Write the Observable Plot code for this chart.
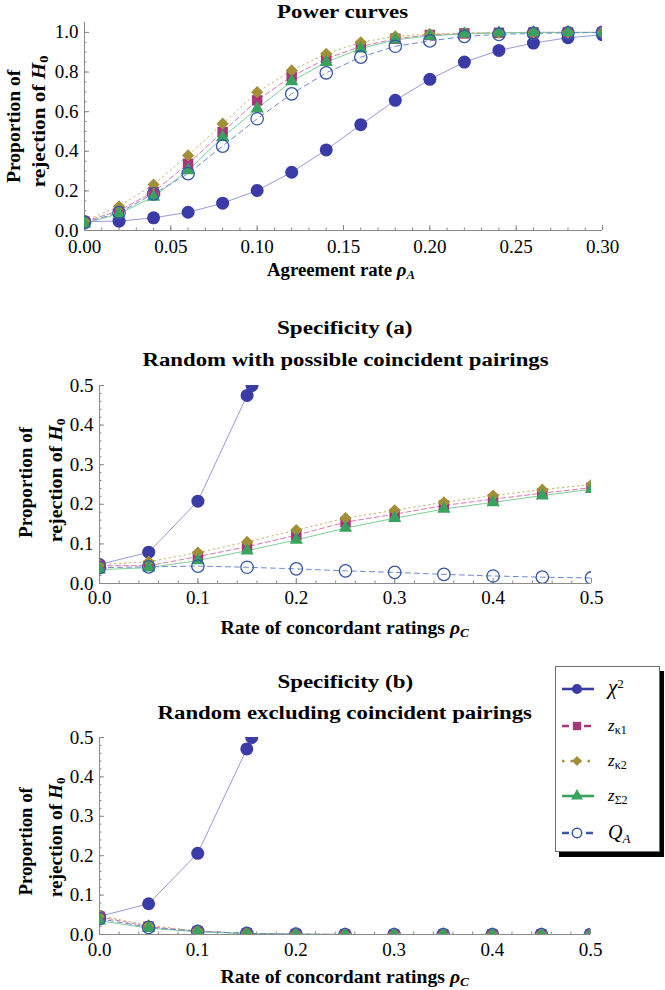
<!DOCTYPE html>
<html>
<head>
<meta charset="utf-8">
<script src="https://cdn.jsdelivr.net/npm/d3@7"></script>
<script src="https://cdn.jsdelivr.net/npm/@observablehq/plot@0.6"></script>
<style>
html,body{margin:0;padding:0;background:#fff;}
#root{position:relative;width:665px;height:990px;overflow:hidden;font-family:"Liberation Serif","Times New Roman",serif;color:#000;}
.t{position:absolute;white-space:nowrap;line-height:1.15;transform-origin:center center;}
.b{font-weight:bold;}
sub{font-size:0.68em;vertical-align:-0.28em;line-height:0;}
sup{font-size:0.68em;vertical-align:0.5em;line-height:0;}
#legend{position:absolute;left:555px;top:666px;width:105px;height:186px;box-sizing:border-box;border:1px solid #6e6e6e;background:#fff;box-shadow:4px 5px 0 #000;z-index:5;}
.row{position:absolute;left:0;width:100%;height:0;}
.row svg{position:absolute;left:5px;top:-9px;}
.row span{position:absolute;left:52px;top:0;transform:translateY(-55%);white-space:nowrap;line-height:1;}
</style>
</head>
<body>
<div id="root"></div>
<script>
// ---------------- data ----------------
const seriesNames = ["χ2", "zκ1", "zκ2", "zΣ2", "QA"];

// Power curves
const rhoA = [0, 0.02, 0.04, 0.06, 0.08, 0.10, 0.12, 0.14, 0.16, 0.18, 0.20, 0.22, 0.24, 0.26, 0.28, 0.30];
const powChi2 = [0.045, 0.047, 0.064, 0.092, 0.138, 0.202, 0.294, 0.407, 0.534, 0.657, 0.763, 0.850, 0.909, 0.946, 0.973, 0.988];
const powK1   = [0.045, 0.100, 0.195, 0.337, 0.497, 0.657, 0.778, 0.867, 0.929, 0.968, 0.987, 0.995, 0.998, 1.000, 1.000, 1.000];
const powK2   = [0.048, 0.122, 0.232, 0.379, 0.539, 0.698, 0.808, 0.892, 0.950, 0.980, 0.992, 0.997, 0.999, 1.000, 1.000, 1.000];
const powS2   = [0.035, 0.085, 0.170, 0.303, 0.471, 0.615, 0.753, 0.850, 0.918, 0.963, 0.982, 0.993, 0.998, 1.000, 1.000, 1.000];
const powQA   = [0.040, 0.090, 0.185, 0.287, 0.426, 0.564, 0.690, 0.796, 0.875, 0.930, 0.957, 0.980, 0.990, 0.995, 0.998, 1.000];

// Specificity (a) and (b)
const rhoC = [0, 0.05, 0.10, 0.15, 0.20, 0.25, 0.30, 0.35, 0.40, 0.45, 0.50];
const rhoCChi = [0, 0.05, 0.10, 0.15, 0.155];
const specAChi2 = [0.048, 0.079, 0.208, 0.475, 0.500];
const specAK1   = [0.045, 0.045, 0.068, 0.093, 0.122, 0.155, 0.175, 0.197, 0.213, 0.228, 0.242];
const specAK2   = [0.048, 0.055, 0.078, 0.105, 0.135, 0.165, 0.185, 0.205, 0.222, 0.237, 0.250];
const specAS2   = [0.035, 0.040, 0.058, 0.083, 0.110, 0.140, 0.165, 0.188, 0.205, 0.222, 0.238];
const specAQA   = [0.040, 0.042, 0.044, 0.041, 0.037, 0.032, 0.028, 0.023, 0.019, 0.016, 0.014];

const specBChi2 = [0.046, 0.078, 0.206, 0.471, 0.500];
const specBK1   = [0.045, 0.020, 0.008, 0.003, 0.001, 0, 0, 0, 0, 0, 0];
const specBK2   = [0.048, 0.023, 0.009, 0.003, 0.001, 0, 0, 0, 0, 0, 0];
const specBS2   = [0.035, 0.016, 0.007, 0.002, 0.001, 0, 0, 0, 0, 0, 0];
const specBQA   = [0.040, 0.018, 0.008, 0.003, 0.001, 0, 0, 0, 0, 0, 0];

// ticks
const powXTicks = [0, 0.05, 0.10, 0.15, 0.20, 0.25, 0.30];
const powXMinor = d3.range(0, 0.3001, 0.01);
const powYTicks = [0, 0.2, 0.4, 0.6, 0.8, 1.0];
const powYMinor = d3.range(0, 1.0001, 0.05);
const specXTicks = [0, 0.1, 0.2, 0.3, 0.4, 0.5];
const specXMinor = d3.range(0, 0.5001, 0.02);
const specYTicks = [0, 0.1, 0.2, 0.3, 0.4, 0.5];
const specYMinor = d3.range(0, 0.5001, 0.02);

// ---------------- style ----------------
const markerColors = ["#3b3ba8", "#a8357c", "#a38f38", "#37a35e", "#3556a8"];
const lineColors   = ["#9a9ad8", "#d87aaa", "#c4b466", "#7ccf98", "#6f8ad0"];
const symbols      = ["circle", "square", "diamond2", "triangle", "circle"];
const markerR      = [6.5, 5.9, 5.5, 4.9, 6.2];
const dashes       = [null, "5,3", "1.5,3.5", null, "5,4"];
const AXIS = "#8a8a8a";
const SERIF = '"Liberation Serif", "Times New Roman", serif';
const root = document.getElementById("root");

function rows(xs, ys) { return ys.map((y, i) => ({x: xs[i], y})); }

function drawPanel(p) {
  const [x0] = p.xDomain, [y0] = p.yDomain;
  const marks = [
    Plot.ruleY([y0], {stroke: AXIS}),
    Plot.ruleX([x0], {stroke: AXIS}),
    Plot.ruleX(p.xMinor, {y1: y0, y2: y0, insetTop: -2.5, stroke: AXIS}),
    Plot.ruleX(p.xTicks, {y1: y0, y2: y0, insetTop: -5, stroke: AXIS}),
    Plot.ruleY(p.yMinor, {x1: x0, x2: x0, insetRight: -2.5, stroke: AXIS}),
    Plot.ruleY(p.yTicks, {x1: x0, x2: x0, insetRight: -5, stroke: AXIS}),
    Plot.axisX({ticks: p.xTicks, tickSize: 0, tickPadding: p.xPad, tickFormat: p.xFmt, label: null,
                fontFamily: SERIF, fontSize: 19, fontVariant: "normal"}),
    Plot.axisY({ticks: p.yTicks, tickSize: 0, tickPadding: 6, tickFormat: p.yFmt, label: null,
                fontFamily: SERIF, fontSize: 19, fontVariant: "normal"})
  ];
  p.series.forEach((s, i) => marks.push(Plot.line(rows(s.x, s.y), {
    x: "x", y: "y", stroke: lineColors[i], strokeWidth: 1, strokeDasharray: dashes[i], clip: true
  })));
  p.series.forEach((s, i) => {
    const open = i === 4;
    marks.push(Plot.dot(rows(s.x, s.y), {
      x: "x", y: "y", symbol: symbols[i], r: markerR[i],
      fill: open ? "none" : markerColors[i],
      stroke: open ? markerColors[i] : "none",
      strokeWidth: open ? 1.3 : 0, clip: true
    }));
  });
  const svg = Plot.plot({
    width: 665, height: p.height,
    marginTop: p.mt, marginBottom: p.mb, marginLeft: p.ml, marginRight: p.mr,
    x: {domain: p.xDomain}, y: {domain: p.yDomain},
    style: {fontFamily: SERIF, fontSize: "19px", color: "#000", background: "transparent", overflow: "visible"},
    marks
  });
  svg.style.position = "absolute";
  svg.style.left = "0px";
  svg.style.top = p.top + "px";
  root.appendChild(svg);
}

drawPanel({
  top: 0, height: 262, mt: 22, mb: 32, ml: 84, mr: 63,
  xDomain: [0, 0.30], yDomain: [0, 1.05],
  xTicks: powXTicks, xMinor: powXMinor, yTicks: powYTicks, yMinor: powYMinor,
  xFmt: d3.format(".2f"), yFmt: d3.format(".1f"), xPad: 9,
  series: [
    {x: rhoA, y: powChi2}, {x: rhoA, y: powK1}, {x: rhoA, y: powK2}, {x: rhoA, y: powS2}, {x: rhoA, y: powQA}
  ]
});
drawPanel({
  top: 370, height: 245, mt: 15, mb: 32, ml: 99, mr: 74,
  xDomain: [0, 0.5], yDomain: [0, 0.5],
  xTicks: specXTicks, xMinor: specXMinor, yTicks: specYTicks, yMinor: specYMinor,
  xFmt: d3.format(".1f"), yFmt: d3.format(".1f"), xPad: 7,
  series: [
    {x: rhoCChi, y: specAChi2}, {x: rhoC, y: specAK1}, {x: rhoC, y: specAK2}, {x: rhoC, y: specAS2}, {x: rhoC, y: specAQA}
  ]
});
drawPanel({
  top: 722, height: 244, mt: 15, mb: 32, ml: 99, mr: 75,
  xDomain: [0, 0.5], yDomain: [0, 0.5],
  xTicks: specXTicks, xMinor: specXMinor, yTicks: specYTicks, yMinor: specYMinor,
  xFmt: d3.format(".1f"), yFmt: d3.format(".1f"), xPad: 8,
  series: [
    {x: rhoCChi, y: specBChi2}, {x: rhoC, y: specBK1}, {x: rhoC, y: specBK2}, {x: rhoC, y: specBS2}, {x: rhoC, y: specBQA}
  ]
});

// ---------------- text ----------------
function addText(html, cx, cy, o) {
  const el = document.createElement("div");
  el.className = "t" + (o.bold ? " b" : "");
  el.style.fontSize = o.size + "px";
  el.innerHTML = html;
  root.appendChild(el);
  const w = el.offsetWidth, h = el.offsetHeight;
  const s = o.width ? o.width / w : 1;
  el.style.left = (cx - w / 2) + "px";
  el.style.top = (cy - h / 2) + "px";
  el.style.transform = (o.rotate ? "rotate(-90deg) " : "") + "scaleX(" + s + ")";
}
const yl1 = "Proportion of";
const yl2 = "rejection of <i>H</i><sub>0</sub>";
addText("Power curves", 342.5, 12, {size: 18, bold: true, width: 131});
addText("Agreement rate <i>ρ<sub>A</sub></i>", 341, 270, {size: 18, bold: true, width: 148});
addText(yl1, 14, 126, {size: 18, bold: true, rotate: true, width: 113});
addText(yl2, 39, 121, {size: 18, bold: true, rotate: true, width: 132});

addText("Specificity (a)", 344.5, 328, {size: 18, bold: true, width: 135});
addText("Random with possible coincident pairings", 345, 360, {size: 18, bold: true, width: 406});
addText(yl1, 26, 482, {size: 18, bold: true, rotate: true, width: 111});
addText(yl2, 56, 480, {size: 18, bold: true, rotate: true, width: 124});
addText("Rate of concordant ratings <i>ρ<sub>C</sub></i>", 344, 628, {size: 18, bold: true, width: 248});

addText("Specificity (b)", 344.5, 682, {size: 18, bold: true, width: 135});
addText("Random excluding coincident pairings", 344.5, 713, {size: 18, bold: true, width: 375});
addText(yl1, 26, 841, {size: 18, bold: true, rotate: true, width: 108});
addText(yl2, 56, 837, {size: 18, bold: true, rotate: true, width: 120});
addText("Rate of concordant ratings <i>ρ<sub>C</sub></i>", 344, 977, {size: 18, bold: true, width: 248});

// ---------------- legend ----------------
const legendLabels = [
  '<i style="font-size:21px">χ</i><sup style="font-size:13px">2</sup>',
  '<i style="font-size:17px">z</i><sub style="font-size:12px">κ1</sub>',
  '<i style="font-size:17px">z</i><sub style="font-size:12px">κ2</sub>',
  '<i style="font-size:17px">z</i><sub style="font-size:12px">Σ2</sub>',
  '<i style="font-size:20px">Q</i><sub style="font-size:13px"><i>A</i></sub>'
];
const legendRowY = [22, 59, 94, 129, 166];
const legendDash = [null, "7,4", "2.5,6", null, "7,5"];
const legendSym = [d3.symbolCircle, d3.symbolSquare, d3.symbolDiamond2, d3.symbolTriangle, d3.symbolCircle];
const legendSize = [80, 70, 62, 62, 70];
const legend = document.createElement("div");
legend.id = "legend";
seriesNames.forEach((name, i) => {
  const row = document.createElement("div");
  row.className = "row";
  row.style.top = legendRowY[i] + "px";
  const open = i === 4;
  const path = d3.symbol(legendSym[i], legendSize[i])();
  row.innerHTML =
    `<svg width="34" height="18" viewBox="0 0 34 18">` +
    `<line x1="1" x2="33" y1="9" y2="9" stroke="${markerColors[i]}" stroke-width="2.6"${legendDash[i] ? ` stroke-dasharray="${legendDash[i]}"` : ""}/>` +
    `<path transform="translate(16,9)" d="${path}" fill="${open ? "#fff" : markerColors[i]}" stroke="${open ? markerColors[i] : "none"}" stroke-width="1.5"/>` +
    `</svg><span title="${name}">${legendLabels[i]}</span>`;
  legend.appendChild(row);
});
root.appendChild(legend);
</script>
</body>
</html>
